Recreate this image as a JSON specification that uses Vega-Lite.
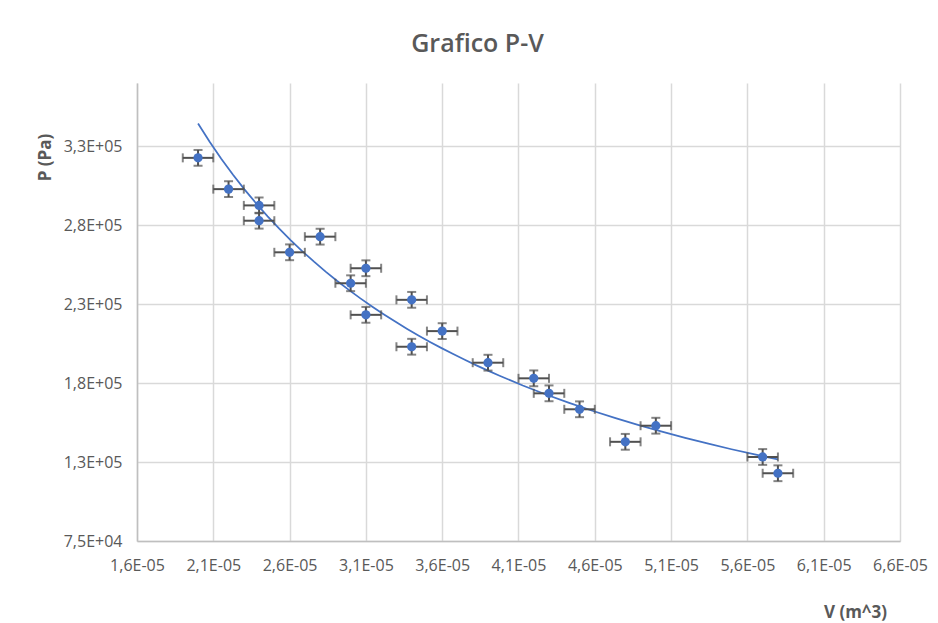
{
  "$schema": "https://vega.github.io/schema/vega-lite/v6.json",
  "width": 763,
  "height": 458,
  "autosize": {"type": "none"},
  "padding": {"left": 137, "top": 83, "right": 38, "bottom": 82},
  "background": "white",
  "config": {"font": "Open Sans", "view": {"stroke": null}},
  "title": {"text": "Grafico P-V", "fontSize": 25, "fontWeight": 600, "color": "#595959", "anchor": "middle", "dx": -41, "frame": "group", "offset": 6, "baseline": "alphabetic"},
  "data": {"values": [
    {"V": 0.000020, "P": 317600, "eV": 0.000001, "eP": 5000},
    {"V": 0.000022, "P": 297800, "eV": 0.000001, "eP": 5000},
    {"V": 0.000024, "P": 287500, "eV": 0.000001, "eP": 5000},
    {"V": 0.000024, "P": 277800, "eV": 0.000001, "eP": 5000},
    {"V": 0.000026, "P": 257800, "eV": 0.000001, "eP": 5000},
    {"V": 0.000028, "P": 267700, "eV": 0.000001, "eP": 5000},
    {"V": 0.000030, "P": 238200, "eV": 0.000001, "eP": 5000},
    {"V": 0.000031, "P": 247700, "eV": 0.000001, "eP": 5000},
    {"V": 0.000031, "P": 218200, "eV": 0.000001, "eP": 5000},
    {"V": 0.000034, "P": 227700, "eV": 0.000001, "eP": 5000},
    {"V": 0.000034, "P": 198000, "eV": 0.000001, "eP": 5000},
    {"V": 0.000036, "P": 207900, "eV": 0.000001, "eP": 5000},
    {"V": 0.000039, "P": 187900, "eV": 0.000001, "eP": 5000},
    {"V": 0.000042, "P": 178000, "eV": 0.000001, "eP": 5000},
    {"V": 0.000043, "P": 168500, "eV": 0.000001, "eP": 5000},
    {"V": 0.000045, "P": 158400, "eV": 0.000001, "eP": 5000},
    {"V": 0.000048, "P": 137800, "eV": 0.000001, "eP": 5000},
    {"V": 0.000050, "P": 148000, "eV": 0.000001, "eP": 5000},
    {"V": 0.000057, "P": 128200, "eV": 0.000001, "eP": 5000},
    {"V": 0.000058, "P": 117900, "eV": 0.000001, "eP": 5000}
  ]},
  "encoding": {
    "x": {
      "field": "V", "type": "quantitative",
      "scale": {"domain": [0.000016, 0.000066], "nice": false, "zero": false},
      "axis": {
        "title": "V (m^3)",
        "values": [0.000016, 0.000021, 0.000026, 0.000031, 0.000036, 0.000041, 0.000046, 0.000051, 0.000056, 0.000061, 0.000066],
        "labelExpr": "replace(replace(format(datum.value, '.1e'), '.', ','), 'e-', 'E-0')",
        "grid": true, "gridColor": "#D9D9D9", "gridWidth": 1.5,
        "domainColor": "#BFBFBF", "domainWidth": 1.5,
        "ticks": false, "labelFlush": false, "labelOverlap": false,
        "labelFontSize": 16, "labelColor": "#595959", "labelPadding": 16,
        "titleFontSize": 17, "titleFontWeight": "bold", "titleColor": "#595959",
        "titleX": 718, "titleY": 71, "titleAlign": "center", "titleBaseline": "middle"
      }
    },
    "y": {
      "field": "P", "type": "quantitative",
      "scale": {"domain": [75000, 365000], "nice": false, "zero": false},
      "axis": {
        "title": "P (Pa)",
        "values": [75000, 125000, 175000, 225000, 275000, 325000],
        "labelExpr": "replace(replace(format(datum.value, '.1e'), '.', ','), 'e+', 'E+0')",
        "grid": true, "gridColor": "#D9D9D9", "gridWidth": 1.5,
        "domainColor": "#BFBFBF", "domainWidth": 1.5,
        "ticks": false, "labelFlush": false, "labelOverlap": false,
        "labelFontSize": 16, "labelColor": "#595959", "labelPadding": 15,
        "titleFontSize": 17, "titleFontWeight": "bold", "titleColor": "#595959",
        "titleX": -92, "titleY": 74, "titleAngle": 270, "titleAlign": "center", "titleBaseline": "middle"
      }
    }
  },
  "layer": [
    {
      "transform": [{"regression": "P", "on": "V", "method": "pow"}],
      "mark": {"type": "line", "color": "#4472C4", "strokeWidth": 1.75}
    },
    {
      "mark": {"type": "errorbar", "color": "#505050", "thickness": 2, "ticks": {"size": 9, "thickness": 2, "color": "#505050"}},
      "encoding": {"xError": {"field": "eV"}}
    },
    {
      "mark": {"type": "errorbar", "color": "#505050", "thickness": 2, "ticks": {"size": 9, "thickness": 2, "color": "#505050"}},
      "encoding": {"yError": {"field": "eP"}}
    },
    {
      "mark": {"type": "point", "filled": true, "shape": "circle", "size": 85, "color": "#4472C4", "opacity": 1}
    }
  ]
}
